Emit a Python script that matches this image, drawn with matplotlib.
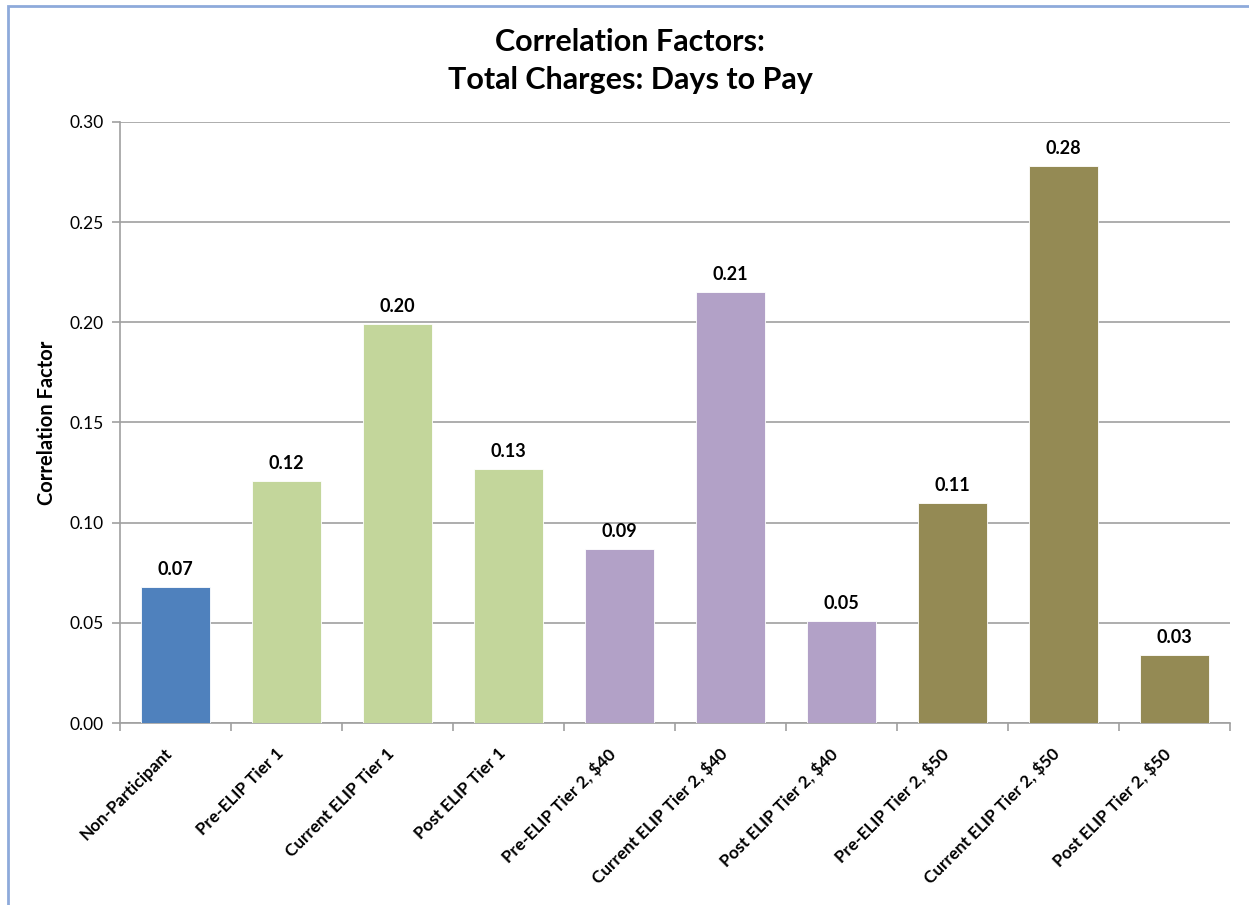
import matplotlib.pyplot as plt
from matplotlib.patches import Rectangle
from matplotlib.transforms import ScaledTranslation

# Données
categories = ["Non-Participant", "Pre-ELIP Tier 1", "Current ELIP Tier 1", "Post ELIP Tier 1",
              "Pre-ELIP Tier 2, $40", "Current ELIP Tier 2, $40", "Post ELIP Tier 2, $40",
              "Pre-ELIP Tier 2, $50", "Current ELIP Tier 2, $50", "Post ELIP Tier 2, $50"]
valeurs = [0.068, 0.121, 0.199, 0.127, 0.087, 0.215, 0.051, 0.110, 0.278, 0.034]
groupes = ["non", "t1", "t1", "t1", "t40", "t40", "t40", "t50", "t50", "t50"]
couleurs_groupes = {"non": "#4F81BD", "t1": "#C3D69B", "t40": "#B2A1C7", "t50": "#948A54"}
yticks = [0.00, 0.05, 0.10, 0.15, 0.20, 0.25, 0.30]

plt.rcParams['font.family'] = ['Lato', 'DejaVu Sans']
plt.rcParams['text.parse_math'] = False

fig = plt.figure(figsize=(12.49, 9.05), dpi=100)
ax = fig.add_axes([120 / 1249, 1 - 723 / 905, 1110 / 1249, 601 / 905])

x = list(range(len(categories)))
couleurs = [couleurs_groupes[g] for g in groupes]
ax.bar(x, valeurs, width=0.63, color=couleurs, edgecolor='white', linewidth=0.6, zorder=3)

# étiquettes des valeurs
for xi, v in zip(x, valeurs):
    ax.text(xi, v + 0.0045, f"{v:.2f}", ha='center', va='bottom', fontsize=13,
            fontweight='bold', color='black')

ax.set_xlim(-0.5, len(categories) - 0.5)
ax.set_ylim(0, 0.30)
ax.set_yticks(yticks)
ax.set_yticklabels([f"{t:.2f}" for t in yticks], fontsize=12.5)
ax.yaxis.grid(True, color='#A0A0A0', linewidth=1.2, zorder=0)
ax.set_axisbelow(True)

# graduations entre les catégories
ax.set_xticks([i - 0.5 for i in range(len(categories) + 1)])
ax.set_xticklabels([])
ax.set_xticks(x, minor=True)
ax.set_xticklabels(categories, minor=True, rotation=45, ha='right', va='top',
                   fontsize=12.3, fontweight='bold')
decalage = ScaledTranslation(4 / 100, 0, fig.dpi_scale_trans)
for lab in ax.get_xticklabels(minor=True):
    lab.set_transform(lab.get_transform() + decalage)
ax.tick_params(axis='x', which='minor', length=0, pad=16)
ax.tick_params(axis='x', which='major', length=6, color='#A0A0A0', width=1.2)
ax.tick_params(axis='y', length=6, color='#A0A0A0', width=1.2, pad=6)

for s in ['top', 'right']:
    ax.spines[s].set_visible(False)
for s in ['left', 'bottom']:
    ax.spines[s].set_color('#A0A0A0')
    ax.spines[s].set_linewidth(1.2)

ax.set_ylabel("Correlation Factor", fontsize=14.5, fontweight='bold', labelpad=9)

fig.text(630 / 1249, 1 - 42 / 905, "Correlation Factors:",
         ha='center', va='center', fontsize=22, fontweight='bold')
fig.text(630 / 1249, 1 - 80 / 905, "Total Charges: Days to Pay",
         ha='center', va='center', fontsize=22, fontweight='bold')

# bordure de la zone graphique
fig.patches.append(Rectangle((8 / 1249, -0.1), 1.2, 1 - 6 / 905 + 0.1, transform=fig.transFigure,
                             fill=False, edgecolor='#8EAADB', linewidth=2))

plt.savefig('out.png', dpi=100)
